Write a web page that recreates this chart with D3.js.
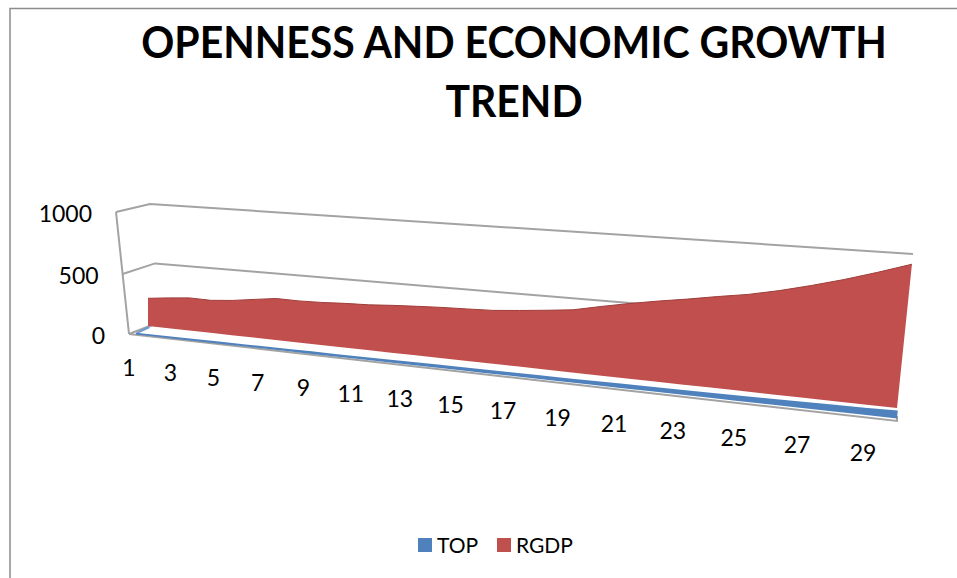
<!DOCTYPE html>
<html>
<head>
<meta charset="utf-8">
<script src="https://cdnjs.cloudflare.com/ajax/libs/d3/7.8.5/d3.min.js"></script>
<style>
    html, body { margin: 0; padding: 0; background: #fff; }
    svg { display: block; }
    text { font-family: Lato, "Open Sans", sans-serif; fill: #000; }
</style>
</head>
<body>
<div id="d3"></div>
<script>
// values
const categories = d3.range(1, 31);
const tickLabels = [1, 3, 5, 7, 9, 11, 13, 15, 17, 19, 21, 23, 25, 27, 29];
const valueTicks = [0, 500, 1000];
const titleLines = ['OPENNESS AND ECONOMIC GROWTH', 'TREND'];
const seriesNames = ['TOP', 'RGDP'];
const seriesColors = ['#4f81bd', '#c0504d'];

const top_values = [14, 15, 15, 16, 17, 17, 18, 19, 20, 20, 21, 22, 23, 24, 25, 26, 26, 27, 28, 30, 31, 32, 34, 36, 38, 40, 42, 45, 48, 52];
const rgdp_values = [230, 250, 267, 264, 280, 305, 329, 327, 332, 342, 348, 361, 371, 380, 386, 393, 410, 429, 450, 491, 529, 563, 594, 628, 659, 701, 751, 806, 868, 935];

const width = 957, height = 578;

let svg = d3.select('#d3').append('svg').attr('width', width).attr('height', height);

let defs = svg.append('defs');
defs.append('filter').attr('id', 'soft').append('feGaussianBlur').attr('stdDeviation', 0.6);

let xScale = d3.scaleLinear().domain([1, 30]).range([0, 1]);
let yScale = d3.scaleLinear().domain([0, 1000]).range([0, 1]);

// the chart is a 3D one, so the scales go through a perspective map of a quad
// corners: bottom left, top left, bottom right, top right
function plane(bl, tl, br, tr) {
    const dx1 = br[0] - tr[0], dx2 = tl[0] - tr[0], sx = bl[0] - br[0] + tr[0] - tl[0];
    const dy1 = br[1] - tr[1], dy2 = tl[1] - tr[1], sy = bl[1] - br[1] + tr[1] - tl[1];
    const det = dx1 * dy2 - dx2 * dy1;
    const g = (sx * dy2 - dx2 * sy) / det;
    const h = (dx1 * sy - sx * dy1) / det;
    const a = br[0] - bl[0] + g * br[0], b = tl[0] - bl[0] + h * tl[0];
    const d = br[1] - bl[1] + g * br[1], e = tl[1] - bl[1] + h * tl[1];
    return (cat, val) => {
        const u = xScale(cat), v = yScale(val);
        const w = g * u + h * v + 1;
        return [(a * u + b * v + bl[0]) / w, (d * u + e * v + bl[1]) / w];
    };
}

const rgdpPlane = plane([148, 326], [148, 204], [897, 408], [913, 254]);
const topPlane = plane([136, 334.5], [136, 212], [897, 418.5], [912, 264]);
const wallPlane = plane([160, 322], [150, 204], [913, 398], [913, 254]);
const sidePlane = plane([129, 334], [116, 212], [897, 421], [912, 267]);
const labelPlane = plane([129, 368], [129, 268], [897, 457], [897, 327.4]);

const line = d3.line();
const marks = svg.append('g').attr('filter', 'url(#soft)');

// chart frame
svg.append('path')
    .attr('d', line([[10, height + 5], [10, 8.5], [width + 5, 8.5]]))
    .attr('fill', 'none').attr('stroke', '#8c8c8c').attr('stroke-width', 1.5);

// walls and gridlines, the 500 line stops behind the red area
const wallColor = '#a3a3a3';
valueTicks.forEach(v => {
    const pts = [sidePlane(1, v), wallPlane(1, v)];
    if (v > 0) pts.push(wallPlane(v === 500 ? 26 : 30, v));
    marks.append('path')
        .attr('class', 'grid')
        .attr('d', line(pts))
        .attr('fill', 'none').attr('stroke', wallColor).attr('stroke-width', 2);
});
marks.append('path')
    .attr('d', line([sidePlane(1, 0), sidePlane(1, 1000)]))
    .attr('fill', 'none').attr('stroke', wallColor).attr('stroke-width', 2);

// floor edge in front of the series
marks.append('path')
    .attr('d', line([sidePlane(1, 0), sidePlane(30, 0), [897, 416]]))
    .attr('fill', 'none').attr('stroke', wallColor).attr('stroke-width', 2);

// series areas
function areaPath(p, values) {
    const upper = categories.map((c, i) => p(c, values[i]));
    const lower = categories.map(c => p(c, 0)).reverse();
    return line(upper.concat(lower)) + 'Z';
}

// left side of the TOP area, running back to the wall
marks.append('path')
    .attr('d', line([topPlane(1, 0), topPlane(1, top_values[0]), rgdpPlane(1, 0), [150, 328]]) + 'Z')
    .attr('fill', '#6f9bd1');

marks.append('path')
    .attr('class', 'top')
    .attr('d', areaPath(topPlane, top_values))
    .attr('fill', seriesColors[0]);

marks.append('path')
    .attr('class', 'rgdp')
    .attr('d', areaPath(rgdpPlane, rgdp_values))
    .attr('fill', seriesColors[1]);

marks.append('path')
    .attr('d', line(categories.map((c, i) => rgdpPlane(c, rgdp_values[i]))))
    .attr('fill', 'none').attr('stroke', '#9e3d3a').attr('stroke-width', 1);

// value axis labels
svg.append('g').selectAll('text').data(valueTicks).enter().append('text')
    .attr('x', d => sidePlane(1, d)[0] - 24)
    .attr('y', d => sidePlane(1, d)[1] + 10)
    .attr('text-anchor', 'end')
    .attr('font-size', 23)
    .text(d => d);

// category labels
svg.append('g').selectAll('text').data(tickLabels).enter().append('text')
    .attr('x', d => labelPlane(d, 0)[0])
    .attr('y', d => labelPlane(d, 0)[1] + 8)
    .attr('text-anchor', 'middle')
    .attr('font-size', 23)
    .text(d => d);

// title, Lato runs wider than the original font so squeeze it a bit
svg.append('g').selectAll('text').data(titleLines).enter().append('text')
    .attr('transform', (d, i) => `translate(514, ${58 + i * 59}) scale(0.931, 1)`)
    .attr('text-anchor', 'middle')
    .attr('font-size', 44)
    .attr('font-weight', 700)
    .text(d => d);

// legend
const legendX = [418, 497];
const legend = svg.append('g').selectAll('g').data(seriesNames).enter().append('g')
    .attr('transform', (d, i) => `translate(${legendX[i]}, 538)`);
legend.append('rect')
    .attr('width', 14).attr('height', 14)
    .attr('fill', (d, i) => seriesColors[i]);
legend.append('text')
    .attr('x', 19).attr('y', 15)
    .attr('font-size', 21)
    .text(d => d);
</script>
</body>
</html>
